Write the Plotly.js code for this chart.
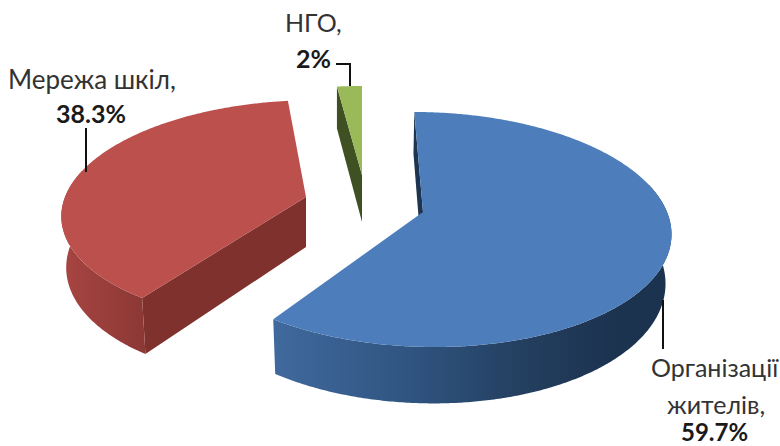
<!DOCTYPE html>
<html>
<head>
<meta charset="utf-8">
<script src="https://cdn.plot.ly/plotly-3.0.1.min.js"></script>
<style>html,body{margin:0;padding:0;background:#fff}#chart{width:780px;height:446px}</style>
</head>
<body>
<div id="chart"></div>
<script>
const categories = ["Організації жителів", "Мережа шкіл", "НГО"];
const labelLines = [["Організації", "жителів,"], ["Мережа шкіл,"], ["НГО,"]];
const shareValues = [59.7, 38.3, 2];

const topColors = ["#4d7ebb", "#bc504d", "#9aba59"];
const radialWallColors = ["#1d3551", "#7f312e", "#3f5022"];
const outerWallScales = [
  [[0, "#40699d"], [0.35, "#2f5480"], [0.62, "#243f60"], [0.85, "#1c3350"], [1, "#1c3350"]],
  [[0, "#a84542"], [1, "#8b3835"]],
  [[0, "#3f5022"], [1, "#3f5022"]]
];
// Projection of each exploded slice: apex, radii, perspective, shear, wall depth, wall shift
const slices3d = [
  {ax: 423, ay: 212, a: 244, b: 114.9, k: 0.149, s: -10, d: 48, f: 0.98, ex: -1},
  {ax: 306, ay: 197, a: 241, b: 109.7, k: 0.133, s: 9.8, d: 50, f: 0.98, ex: 0},
  {ax: 362, ay: 175, a: 226, b: 100.6, k: 0.13, s: 0, d: 47, f: 1, ex: 0}
];
const labelPlaces = [
  [{x: 715, y: 367, size: 25}, {x: 716, y: 404, size: 25}, {x: 714, y: 431, size: 24, bold: true}],
  [{x: 92, y: 79, size: 26}, {x: 91, y: 113, size: 25, bold: true}],
  [{x: 313, y: 22, size: 25}, {x: 313, y: 58, size: 25, bold: true}]
];

function topPoint(p, deg) {
  const t = deg * Math.PI / 180, u = Math.sin(t), v = Math.cos(t), w = 1 + p.k * v;
  return {x: p.ax + (p.a * u + p.s * v) / w, y: p.ay - p.b * v / w, v: v, w: w};
}
function basePoint(p, q) {
  return {x: p.ax + (q.x - p.ax) * p.f + p.ex, y: q.y + p.d / q.w};
}
function arc(from, to) {
  const out = [], n = Math.max(2, Math.ceil((to - from) * 2));
  for (let i = 0; i <= n; i++) out.push(from + (to - from) * i / n);
  return out;
}
function poly(pts, extra) {
  return Object.assign({
    type: "scatter", mode: "none", fill: "toself", hoverinfo: "skip", showlegend: false,
    x: pts.map(q => q.x), y: pts.map(q => q.y)
  }, extra);
}

const total = shareValues.reduce((s, v) => s + v, 0);
let cum = 0;
const parts = shareValues.map((val, i) => {
  const from = cum / total * 360; cum += val;
  return {i: i, from: from, to: cum / total * 360};
});

const traces = [];
[2, 1, 0].forEach(i => {
  const part = parts[i], p = slices3d[i];
  const apex = {x: p.ax, y: p.ay, w: 1};
  const rim = arc(part.from, part.to).map(d => topPoint(p, d));
  const startQ = topPoint(p, part.from);
  const wall = [startQ, apex, basePoint(p, apex), basePoint(p, startQ)];
  const front = rim.filter(q => q.v < 0.25);
  traces.push(poly(wall, {fillcolor: radialWallColors[i], name: categories[i] + " wall"}));
  if (front.length > 1) {
    const band = front.concat(front.slice().reverse().map(q => basePoint(p, q)));
    traces.push(poly(band, {
      fillgradient: {type: "horizontal", colorscale: outerWallScales[i]},
      name: categories[i] + " side"
    }));
  }
  traces.push(poly([apex].concat(rim), {fillcolor: topColors[i], name: categories[i]}));
});

const annotations = [];
labelPlaces.forEach((places, i) => {
  const lines = labelLines[i].concat(["<b>" + shareValues[i] + "%</b>"]);
  places.forEach((pl, j) => annotations.push({
    xref: "x", yref: "y", x: pl.x, y: pl.y, xanchor: "center", yanchor: "middle",
    showarrow: false, text: lines[j],
    font: {family: "Lato, 'Noto Sans', sans-serif", size: pl.size, color: pl.bold ? "#1a1a1a" : "#333333"}
  }));
});

const leader = {color: "#111111", width: 2};
const shapes = [
  {type: "line", xref: "x", yref: "y", x0: 86, y0: 128, x1: 86, y1: 172, line: leader},
  {type: "path", xref: "x", yref: "y", path: "M336,64 L350,64 L350,86", line: leader},
  {type: "line", xref: "x", yref: "y", x0: 663, y0: 300, x1: 663, y1: 349, line: leader}
];

Plotly.newPlot("chart", traces, {
  width: 780, height: 446, margin: {l: 0, r: 0, t: 0, b: 0},
  paper_bgcolor: "#ffffff", plot_bgcolor: "#ffffff", showlegend: false,
  xaxis: {range: [0, 780], visible: false, fixedrange: true},
  yaxis: {range: [446, 0], visible: false, fixedrange: true},
  annotations: annotations, shapes: shapes
}, {displayModeBar: false, staticPlot: true});
</script>
</body>
</html>
